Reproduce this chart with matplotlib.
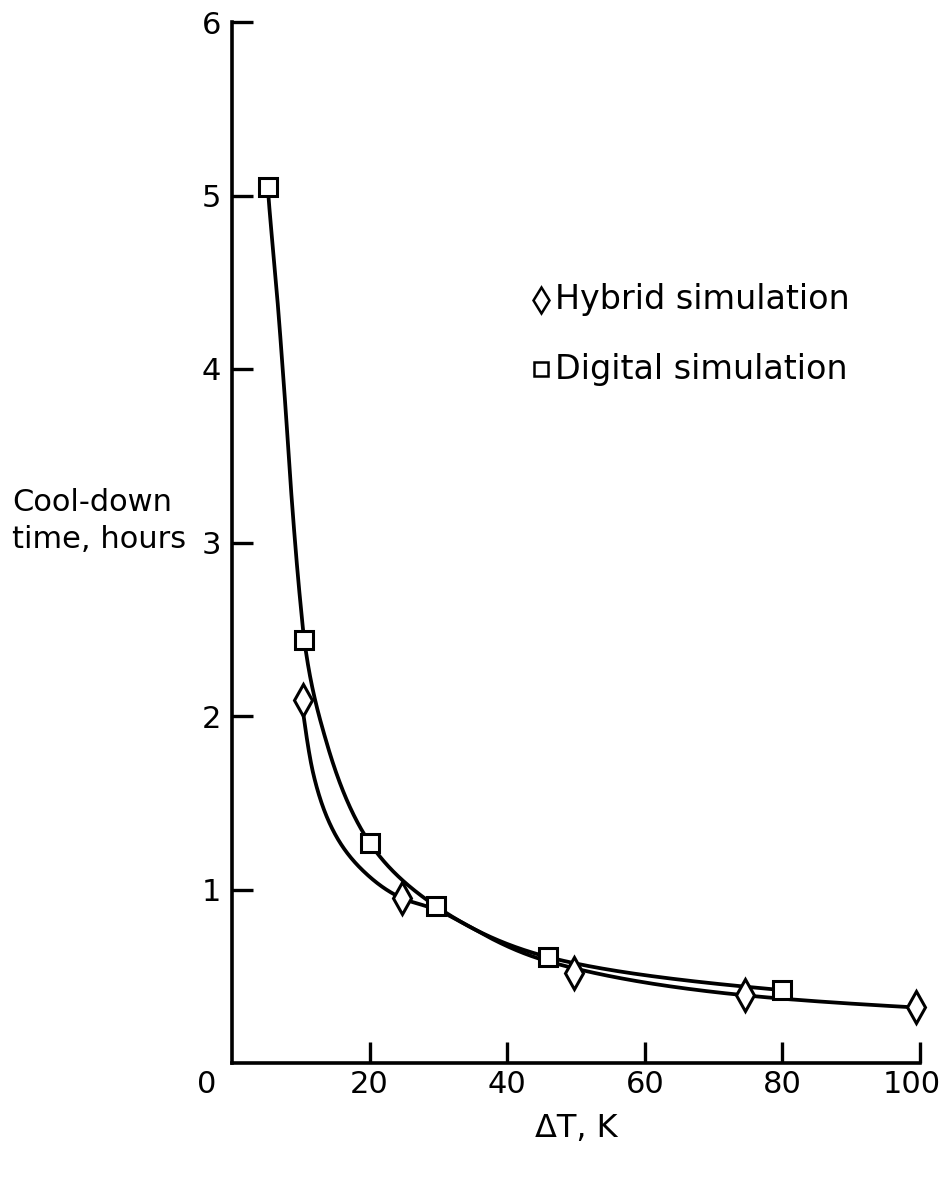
import numpy as np
import matplotlib
matplotlib.use("Agg")
import matplotlib.pyplot as plt
import matplotlib.transforms as mtransforms

plt.rcParams['font.family'] = ['DejaVu Sans']

# ---- data ----
digital_x = [5.2, 10.5, 20.0, 29.6, 46.0, 80.0]
digital_y = [5.05, 2.44, 1.27, 0.905, 0.61, 0.42]
hybrid_x = [10.3, 24.7, 49.7, 74.6, 99.4]
hybrid_y = [2.09, 0.95, 0.52, 0.39, 0.32]

# faired curves
digital_curve_x = [5.2, 6.6, 7.7, 8.7, 9.9, 10.5, 13.8, 20.0, 29.6, 46.0, 80.0]
digital_curve_y = [5.05, 4.40, 3.82, 3.24, 2.67, 2.44, 1.84, 1.27, 0.905, 0.61, 0.42]
hybrid_curve_x = [10.3, 11.8, 14.7, 19.0, 24.7, 29.6, 46.0, 74.6, 99.4]
hybrid_curve_y = [2.03, 1.67, 1.34, 1.11, 0.95, 0.885, 0.585, 0.39, 0.32]

x_ticks = [0, 20, 40, 60, 80, 100]
y_ticks = [1, 2, 3, 4, 5, 6]
legend_labels = ["Hybrid simulation", "Digital simulation"]


def pchip(x, y, xn):
    x = np.asarray(x, float); y = np.asarray(y, float)
    h = np.diff(x); d = np.diff(y) / h
    n = len(x)
    m = np.zeros(n)
    for k in range(1, n - 1):
        if d[k - 1] * d[k] > 0:
            w1 = 2 * h[k] + h[k - 1]
            w2 = h[k] + 2 * h[k - 1]
            m[k] = (w1 + w2) / (w1 / d[k - 1] + w2 / d[k])
    m[0] = d[0]; m[-1] = d[-1]
    idx = np.clip(np.searchsorted(x, xn) - 1, 0, n - 2)
    t = (xn - x[idx]) / h[idx]
    h00 = 2 * t**3 - 3 * t**2 + 1
    h10 = t**3 - 2 * t**2 + t
    h01 = -2 * t**3 + 3 * t**2
    h11 = t**3 - t**2
    return h00 * y[idx] + h10 * h[idx] * m[idx] + h01 * y[idx + 1] + h11 * h[idx] * m[idx + 1]


def loglog_curve(xs, ys, n=800):
    lx = np.log(xs); ly = np.log(ys)
    t = np.linspace(lx[0], lx[-1], n)
    return np.exp(t), np.exp(pchip(lx, ly, t))


fig = plt.figure(figsize=(9.48, 11.83), dpi=100)
ax = fig.add_axes([232 / 948, 1 - 1063 / 1183, (920 - 232) / 948, (1063 - 22) / 1183])

lw = 2.7
cx, cy = loglog_curve(digital_curve_x, digital_curve_y)
ax.plot(cx, cy, color='black', lw=lw, solid_capstyle='butt')
cx, cy = loglog_curve(hybrid_curve_x, hybrid_curve_y)
ax.plot(cx, cy, color='black', lw=lw, solid_capstyle='butt')

ax.plot(digital_x, digital_y, linestyle='none', marker='s', ms=13, mfc='white', mec='black', mew=2.2,
        clip_on=False, zorder=5)
ax.plot(hybrid_x, hybrid_y, linestyle='none', marker='d', ms=16, mfc='white', mec='black', mew=2.2,
        clip_on=False, zorder=5)

ax.set_xlim(0, 100)
ax.set_ylim(0, 6)
for s in ['top', 'right']:
    ax.spines[s].set_visible(False)
for s in ['left', 'bottom']:
    ax.spines[s].set_linewidth(2.6)

ax.set_xticks(x_ticks)
ax.set_xticklabels([str(v) for v in x_ticks])
ax.set_yticks(y_ticks)
ax.set_yticklabels([str(v) for v in y_ticks])
ax.tick_params(direction='in', length=15, width=2.4, labelsize=22, pad=8)
ax.tick_params(axis='x', pad=5)
ax.xaxis.get_major_ticks()[0].tick1line.set_visible(False)
xlabels = ax.get_xticklabels()
xlabels[0].set_transform(xlabels[0].get_transform() +
                         mtransforms.ScaledTranslation(-25 / 100, 0, fig.dpi_scale_trans))
xlabels[-1].set_transform(xlabels[-1].get_transform() +
                          mtransforms.ScaledTranslation(-8 / 100, 0, fig.dpi_scale_trans))

ax.set_xlabel("ΔT, K", fontsize=23, labelpad=10)
fig.text(12 / 948, 1 - 521 / 1183, "Cool-down\ntime, hours", fontsize=22, ha='left', va='center',
         linespacing=1.35)

# legend
ax.plot([44.9], [4.40], marker='d', ms=13, mfc='white', mec='black', mew=1.8, linestyle='none')
ax.plot([44.9], [4.0], marker='s', ms=10, mfc='white', mec='black', mew=1.8, linestyle='none')
ax.text(47.0, 4.40, legend_labels[0], fontsize=24, va='center', ha='left')
ax.text(47.0, 4.0, legend_labels[1], fontsize=24, va='center', ha='left')

fig.savefig("out.png", dpi=100, facecolor='white')
